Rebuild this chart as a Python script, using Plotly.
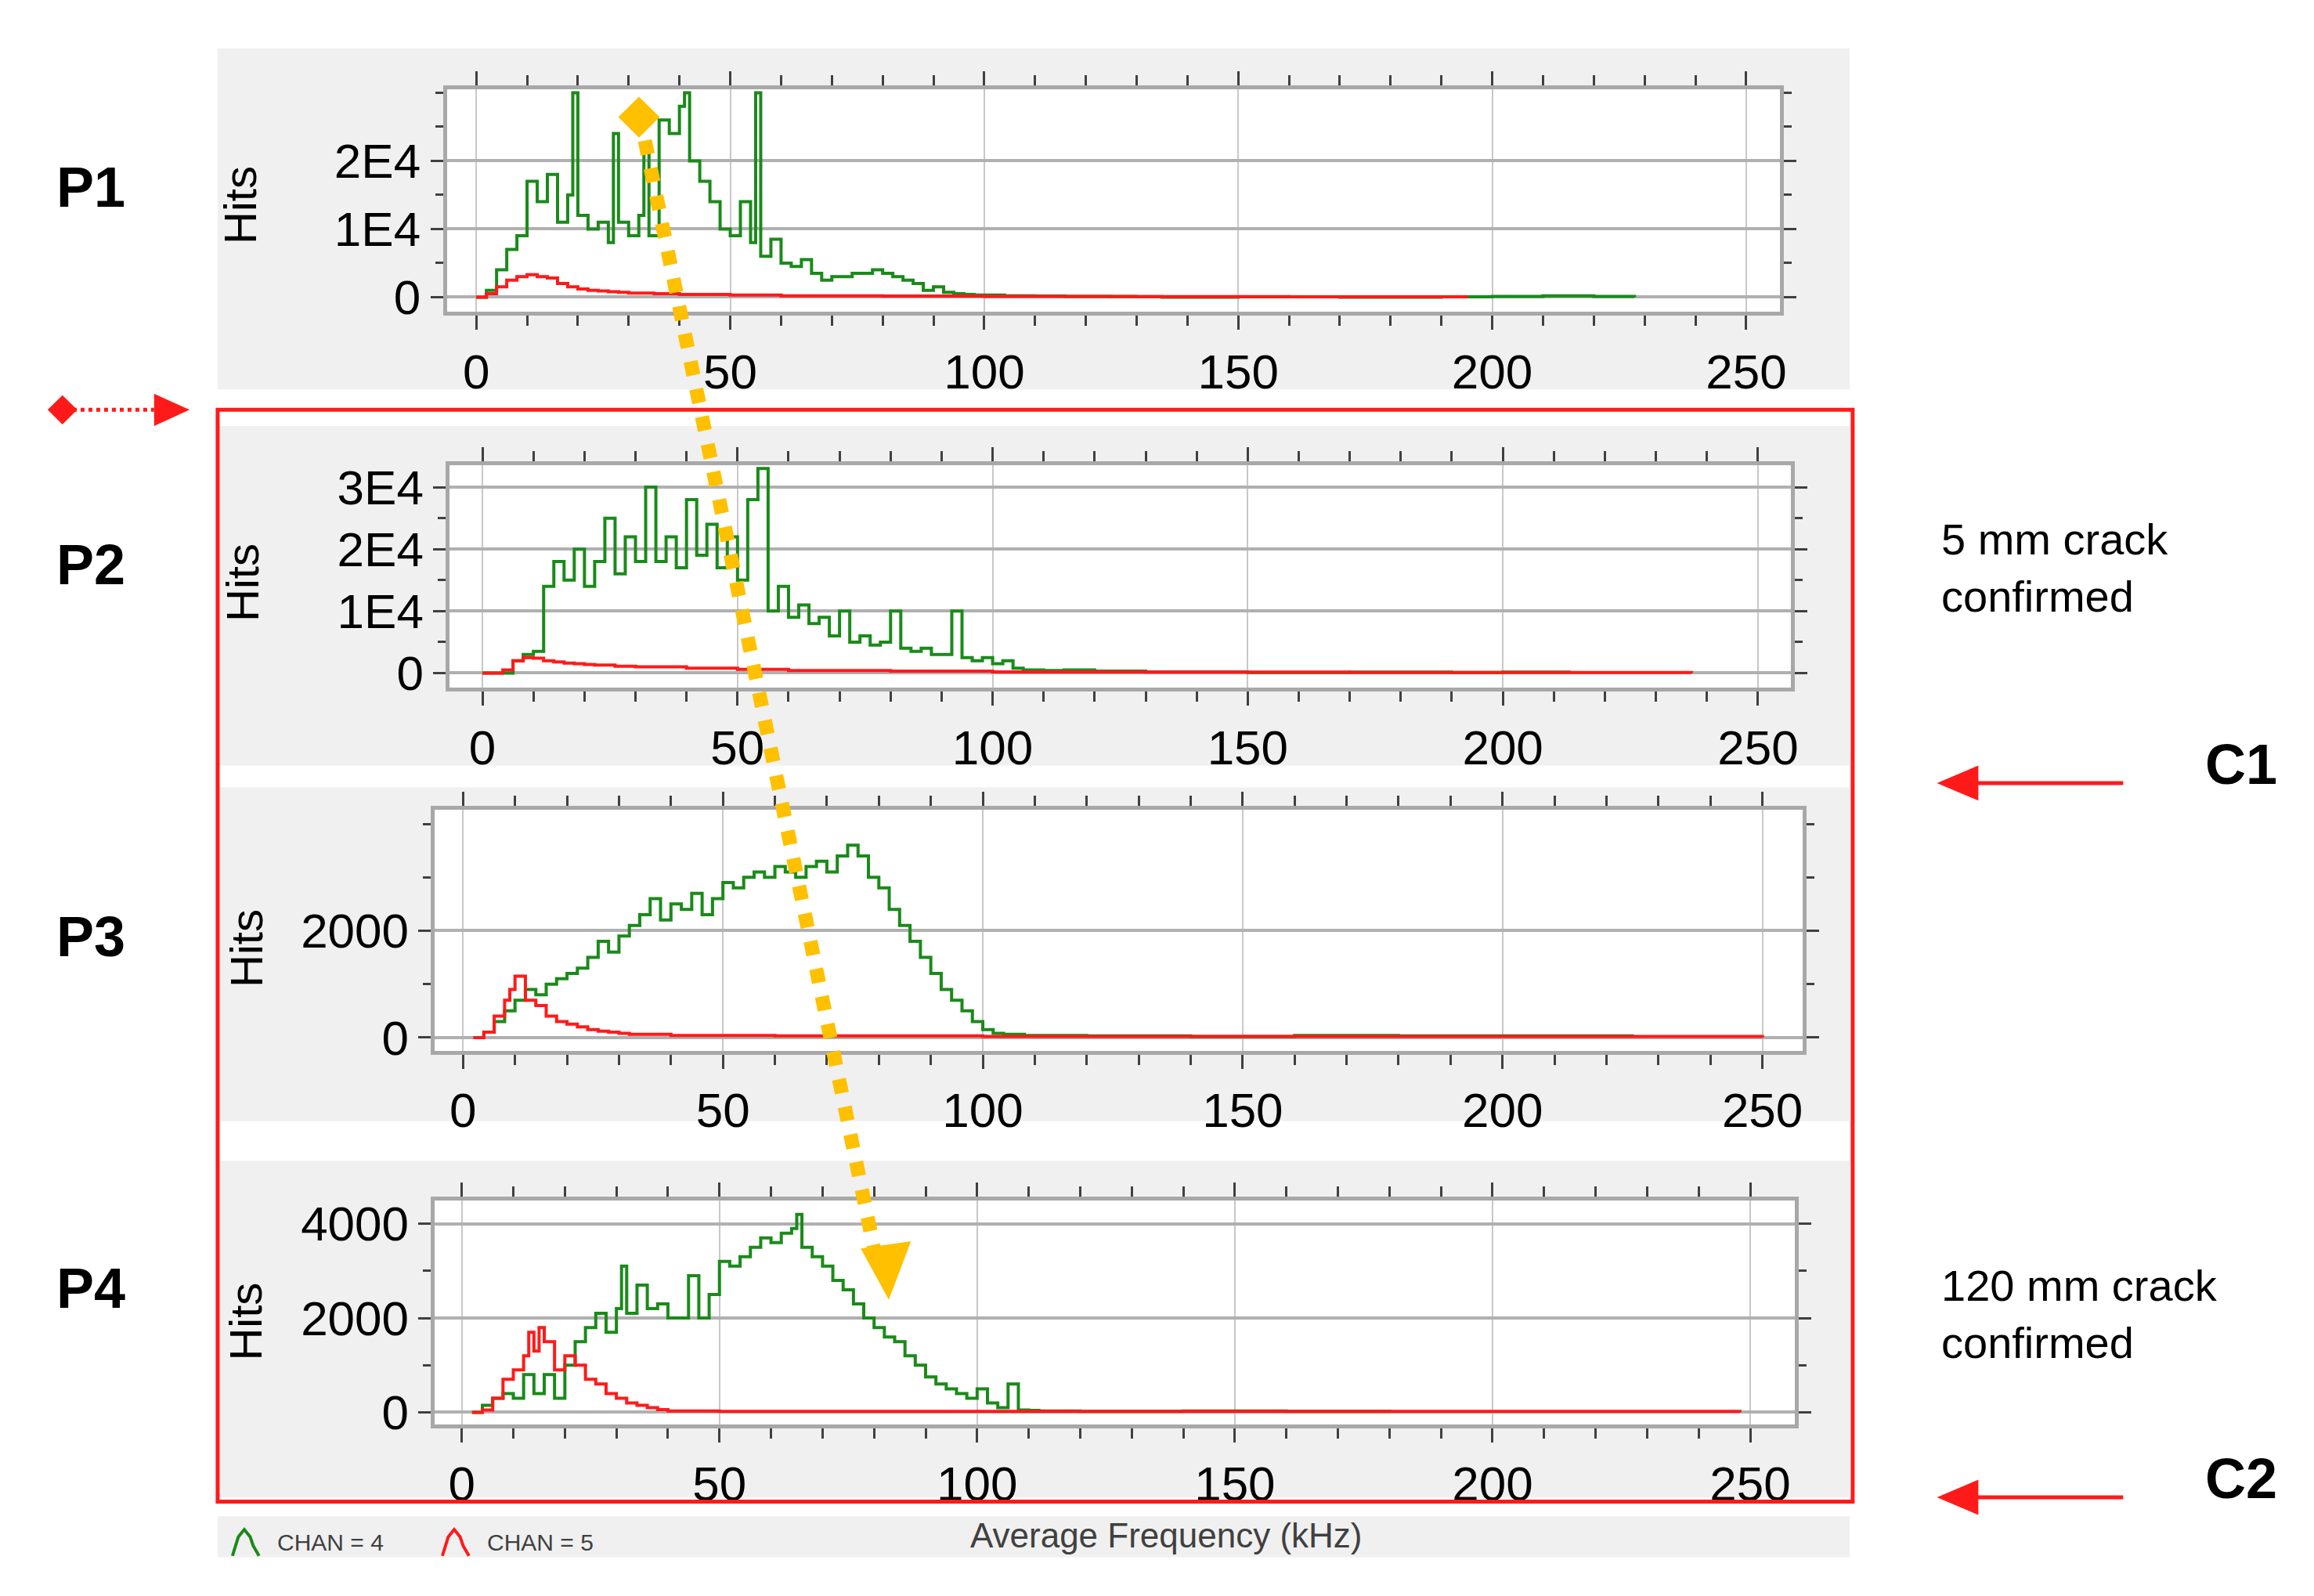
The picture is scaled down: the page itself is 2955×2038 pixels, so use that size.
import plotly.graph_objects as go

# ---------------- data (kHz bin starts, hits) ----------------
p1_green_x = [0,2,4,6,8,10,12,14,16,18,19,20,22,24,26,27,28,30,32,33,34,36,38,40,41,42,44,46,48,50,52,54,55,56,58,60,62,64,66,68,70,72,74,76,78,80,82,84,86,88,90,92,94,96,98,100,104,110,116,125,135,150,170,190,200,210,220,228]
p1_green_y = [0,1000,4000,7000,9000,17000,14000,18000,11000,15000,30000,12000,10000,11000,8000,24000,11000,9000,12000,22000,9000,26000,24000,28000,30000,20000,17000,14000,10000,9000,14000,8000,30000,6000,8500,5000,4500,5500,3500,2500,3000,3000,3500,3500,4000,3500,3000,2500,2000,1000,1500,700,500,400,300,300,200,150,100,80,0,50,0,50,100,200,100,0]
p1_red_x = [0,2,4,6,8,10,12,14,16,18,20,22,24,26,28,30,35,40,50,60,80,100,130,160,195]
p1_red_y = [0,500,1500,2500,3000,3300,3000,2800,2000,1500,1200,1000,900,800,700,600,500,400,300,200,150,100,80,60,0]

p2_green_x = [0,4,6,8,10,12,14,16,18,20,22,24,26,28,30,32,34,36,38,40,42,44,46,48,50,52,54,56,58,60,62,64,66,68,70,72,74,76,78,80,82,84,86,88,90,92,94,96,98,100,102,104,106,110,114,120,130,150,170,190,200,213]
p2_green_y = [0,0,2000,3000,3500,14000,18000,15000,20000,14000,18000,25000,16000,22000,18000,30000,18000,22000,17000,28000,19000,24000,17000,22000,15000,28000,33000,10000,14000,9000,11000,8000,9000,6000,10000,5000,6000,4500,5000,10000,4000,3500,4000,3000,3000,10000,2500,2000,2500,1500,2000,800,500,400,500,300,200,100,150,100,150,0]
p2_red_x = [0,4,6,8,10,12,14,16,18,20,22,26,30,40,50,60,80,100,130,170,210,237]
p2_red_y = [0,500,2000,2500,2400,2000,1800,1600,1500,1400,1300,1100,1000,800,600,400,300,200,150,100,100,0]

p3_green_x = [2,4,6,8,10,12,14,16,18,20,22,24,26,28,30,32,34,36,38,40,42,44,46,48,50,52,54,56,58,60,62,64,66,68,70,72,74,76,78,80,82,84,86,88,90,92,94,96,98,100,102,104,108,120,140,160,180,200,225]
p3_green_y = [0,100,300,500,700,900,800,1000,1100,1200,1300,1500,1800,1600,1900,2100,2300,2600,2200,2500,2400,2700,2300,2600,2900,2800,3000,3100,3000,3200,3100,3000,3200,3300,3100,3400,3600,3400,3000,2800,2400,2100,1800,1500,1200,900,700,500,300,150,80,60,40,30,20,40,30,30,0]
p3_red_x = [2,4,6,8,9,10,12,14,16,18,20,22,24,26,28,30,32,40,60,100,150,200,250]
p3_red_y = [0,100,400,700,900,1150,700,600,400,300,250,200,150,120,100,80,60,40,30,20,20,20,0]

p4_green_x = [2,4,6,8,10,12,14,16,18,20,22,24,26,28,30,31,32,34,36,38,40,42,44,46,48,50,52,54,56,58,60,62,64,65,66,68,70,72,74,76,78,80,82,84,86,88,90,92,94,96,98,100,102,104,106,108,110,112,120,140,160,180]
p4_green_y = [0,150,300,400,300,800,400,800,300,1000,1500,1800,2100,1700,2200,3100,2100,2700,2200,2300,2000,2000,2900,2000,2500,3200,3100,3300,3500,3700,3600,3800,3900,4200,3500,3300,3100,2800,2600,2300,2000,1800,1600,1500,1200,1000,750,600,500,400,300,500,200,100,600,50,40,30,20,30,20,0]
p4_red_x = [2,4,6,8,10,12,13,14,15,16,18,20,22,24,26,28,30,32,34,36,38,40,50,100,150,200,248]
p4_red_y = [0,50,300,700,900,1200,1700,1300,1800,1500,900,1200,1000,700,600,400,300,200,150,100,60,30,20,20,20,20,0]

x_ticks = [0, 50, 100, 150, 200, 250]
p12_yticks = [0, 10000, 20000, 30000]
p12_yticklabels = ["0", "1E4", "2E4", "3E4"]

W, H = 1560.0, 1076.0
def px(v): return v / W
def py(v): return 1 - v / H

GREEN = "#1a8a1a"
RED = "#ff1a1a"
ORANGE = "#FFC000"
FONT = "Liberation Sans"

panels = [
    dict(gx=p1_green_x, gy=p1_green_y, rx=p1_red_x, ry=p1_red_y, dom=(298,1200,53,205),
         xr=(-5.8,256.7), yr=(-2150,30500), yt=[0,10000,20000], ytl=["0","1E4","2E4"], ym=5000,
         bg=(143,1247,25,258), label="P1", ly=120, hits=(158,132)),
    dict(gx=p2_green_x, gy=p2_green_y, rx=p2_red_x, ry=p2_red_y, dom=(300,1207,310,462),
         xr=(-6.4,256.4), yr=(-2400,33500), yt=p12_yticks, ytl=p12_yticklabels, ym=5000,
         bg=(143,1247,283,515), label="P2", ly=378, hits=(160,390)),
    dict(gx=p3_green_x, gy=p3_green_y, rx=p3_red_x, ry=p3_red_y, dom=(290,1215,545,710),
         xr=(-5.4,257.7), yr=(-250,4270), yt=[0,2000], ytl=["0","2000"], ym=1000,
         bg=(143,1247,530,758), label="P3", ly=632, hits=(162,640)),
    dict(gx=p4_green_x, gy=p4_green_y, rx=p4_red_x, ry=p4_red_y, dom=(290,1210,812,965),
         xr=(-5.2,258.7), yr=(-250,4500), yt=[0,2000,4000], ytl=["0","2000","4000"], ym=1000,
         bg=(143,1247,785,1015), label="P4", ly=872, hits=(162,895)),
]

fig = go.Figure()
shapes = []
annotations = []
layout = {}

for p in panels:
    x0, x1, y0, y1 = p["bg"]
    shapes.append(dict(type="rect", xref="paper", yref="paper", x0=px(x0), x1=px(x1), y0=py(y1), y1=py(y0),
                       fillcolor="#f0f0f0", line=dict(width=0), layer="below"))
shapes.append(dict(type="rect", xref="paper", yref="paper", x0=px(143), x1=px(1247), y0=py(1056), y1=py(1028),
                   fillcolor="#f0f0f0", line=dict(width=0), layer="below"))
for p in panels:
    x0, x1, y0, y1 = p["dom"]
    shapes.append(dict(type="rect", xref="paper", yref="paper", x0=px(x0), x1=px(x1), y0=py(y1), y1=py(y0),
                       fillcolor="white", line=dict(width=0), layer="below"))

for i, p in enumerate(panels, start=1):
    xa = "x" if i == 1 else f"x{i}"
    ya = "y" if i == 1 else f"y{i}"
    fig.add_trace(go.Scatter(x=p["gx"], y=p["gy"], mode="lines", line=dict(color=GREEN, width=4, shape="hv"),
                             xaxis=xa, yaxis=ya, showlegend=False))
    fig.add_trace(go.Scatter(x=p["rx"], y=p["ry"], mode="lines", line=dict(color=RED, width=4, shape="hv"),
                             xaxis=xa, yaxis=ya, showlegend=False))
    x0, x1, y0, y1 = p["dom"]
    k = "" if i == 1 else str(i)
    layout["xaxis" + k] = dict(domain=[px(x0), px(x1)], range=list(p["xr"]), anchor=ya,
                               tickvals=x_ticks, ticks="outside", ticklen=18, tickwidth=3, tickcolor="#404040",
                               mirror="ticks", showline=True, linecolor="#a8a8a8", linewidth=5,
                               showgrid=True, gridcolor="#c8c8c8", gridwidth=2, zeroline=False,
                               tickfont=dict(family=FONT, size=62, color="black"),
                               minor=dict(dtick=10, ticks="outside", ticklen=13, tickwidth=3, tickcolor="#404040", showgrid=False))
    layout["yaxis" + k] = dict(domain=[py(y1), py(y0)], range=list(p["yr"]), anchor=xa,
                               tickvals=p["yt"], ticktext=p["ytl"], ticks="outside", ticklen=16, tickwidth=3,
                               tickcolor="#404040", mirror="ticks", showline=True, linecolor="#a8a8a8", linewidth=5,
                               showgrid=True, gridcolor="#b0b0b0", gridwidth=4, zeroline=False,
                               tickfont=dict(family=FONT, size=62, color="black"),
                               minor=dict(dtick=p["ym"], ticks="outside", ticklen=10, tickwidth=3, tickcolor="#404040", showgrid=False))
    annotations.append(dict(text="<b>" + p["label"] + "</b>", x=px(57), y=py(p["ly"]), xref="paper", yref="paper",
                            xanchor="center", yanchor="middle",
                            showarrow=False, font=dict(family=FONT, size=72, color="black")))
    annotations.append(dict(text="Hits", x=px(p["hits"][0]), y=py(p["hits"][1]), xref="paper", yref="paper",
                            xanchor="center", yanchor="middle",
                            textangle=-90, showarrow=False, font=dict(family=FONT, size=58, color="black")))

shapes.append(dict(type="rect", xref="paper", yref="paper", x0=px(143), x1=px(1249), y0=py(1018), y1=py(272),
                   line=dict(color=RED, width=5), fillcolor="rgba(0,0,0,0)"))

def path(pts):
    return "M " + " L ".join(f"{px(a)},{py(b)}" for a, b in pts) + " Z"

shapes.append(dict(type="line", xref="paper", yref="paper", x0=px(432), y0=py(88), x1=px(588), y1=py(850),
                   line=dict(color=ORANGE, width=18, dash="dot")))
shapes.append(dict(type="path", xref="paper", yref="paper", path=path([(414,72),(428,58),(442,72),(428,86)]),
                   fillcolor=ORANGE, line=dict(width=0)))
shapes.append(dict(type="path", xref="paper", yref="paper", path=path([(578,845),(612,840),(597,880)]),
                   fillcolor=ORANGE, line=dict(width=0)))

shapes.append(dict(type="line", xref="paper", yref="paper", x0=px(45), y0=py(272), x1=px(100), y1=py(272),
                   line=dict(color=RED, width=5, dash="dot")))
shapes.append(dict(type="path", xref="paper", yref="paper", path=path([(28,272),(38,262),(48,272),(38,282)]),
                   fillcolor=RED, line=dict(width=0)))
shapes.append(dict(type="path", xref="paper", yref="paper", path=path([(100,261),(124,272),(100,283)]),
                   fillcolor=RED, line=dict(width=0)))

for yy in (527, 1015):
    shapes.append(dict(type="line", xref="paper", yref="paper", x0=px(1432), y0=py(yy), x1=px(1330), y1=py(yy),
                       line=dict(color=RED, width=5)))
    shapes.append(dict(type="path", xref="paper", yref="paper", path=path([(1334,yy-12),(1306,yy),(1334,yy+12)]),
                       fillcolor=RED, line=dict(width=0)))
annotations.append(dict(text="<b>C1</b>", x=px(1512), y=py(514), xref="paper", yref="paper", showarrow=False,
                        xanchor="center", yanchor="middle", font=dict(family=FONT, size=72, color="black")))
annotations.append(dict(text="<b>C2</b>", x=px(1512), y=py(1002), xref="paper", yref="paper", showarrow=False,
                        xanchor="center", yanchor="middle", font=dict(family=FONT, size=72, color="black")))
annotations.append(dict(text="5 mm crack<br>confirmed", x=px(1308), y=py(380), xref="paper", yref="paper",
                        showarrow=False, xanchor="left", yanchor="middle", align="left",
                        font=dict(family=FONT, size=56, color="black")))
annotations.append(dict(text="120 mm crack<br>confirmed", x=px(1308), y=py(890), xref="paper", yref="paper",
                        showarrow=False, xanchor="left", yanchor="middle", align="left",
                        font=dict(family=FONT, size=56, color="black")))

annotations.append(dict(text="Average Frequency (kHz)", x=px(785), y=py(1041), xref="paper", yref="paper",
                        xanchor="center", yanchor="middle",
                        showarrow=False, font=dict(family=FONT, size=44, color="#404040")))
annotations.append(dict(text="CHAN = 4", x=px(182), y=py(1046), xref="paper", yref="paper", xanchor="left",
                        yanchor="middle", showarrow=False, font=dict(family=FONT, size=30, color="#404040")))
annotations.append(dict(text="CHAN = 5", x=px(324), y=py(1046), xref="paper", yref="paper", xanchor="left",
                        yanchor="middle", showarrow=False, font=dict(family=FONT, size=30, color="#404040")))
for x0, col in ((153, GREEN), (295, RED)):
    pts = [(x0,1055),(x0+4,1042),(x0+8,1037),(x0+12,1042),(x0+14,1048),(x0+18,1055)]
    shapes.append(dict(type="path", xref="paper", yref="paper",
                       path="M " + " L ".join(f"{px(a)},{py(b)}" for a, b in pts),
                       line=dict(color=col, width=4)))

fig.update_layout(width=2955, height=2038, margin=dict(l=0, r=0, t=0, b=0),
                  paper_bgcolor="white", plot_bgcolor="rgba(0,0,0,0)",
                  shapes=shapes, annotations=annotations, **layout)
fig.write_html("out.html")
